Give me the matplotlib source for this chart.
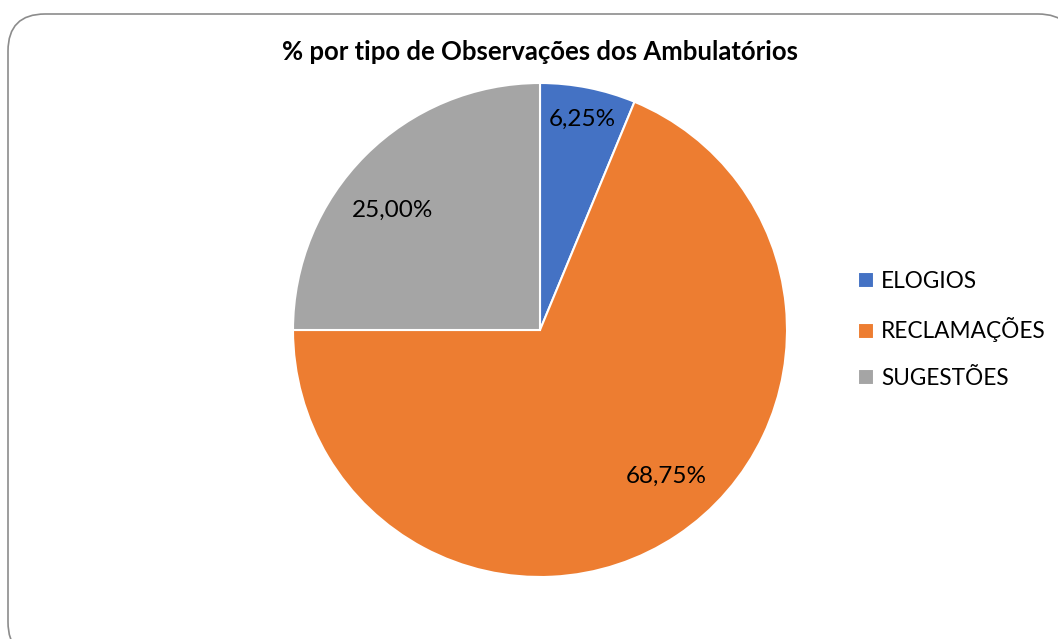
import numpy as np
import matplotlib as mpl
import matplotlib.pyplot as plt
from matplotlib.patches import FancyBboxPatch

mpl.rc('font', family=['Lato', 'DejaVu Sans'])

categorias = ['ELOGIOS', 'RECLAMAÇÕES', 'SUGESTÕES']
percentagens = [6.25, 68.75, 25.00]
cores = ['#4472C4', '#ED7D31', '#A5A5A5']
rotulos = ['6,25%', '68,75%', '25,00%']
# where each label sits: fraction of radius, angular offset from wedge middle
rot_raio = [0.87, 0.78, 0.77]
rot_desvio = [0, 7, 6]

W, H = 1058, 639
fig = plt.figure(figsize=(W / 100, H / 100), dpi=100)

# rounded chart border
borda = FancyBboxPatch((8 / W, -20 / H), (1075 - 8) / W, (639 - 14 + 20) / H,
                       boxstyle='round,pad=0,rounding_size=0.035',
                       transform=fig.transFigure, facecolor='white',
                       edgecolor='#8c8c8c', linewidth=1.2, mutation_aspect=W / H,
                       zorder=-10)
fig.patches.append(borda)

cx, cy, r = 540, 639 - 330, 247
ax = fig.add_axes([(cx - r) / W, (cy - r) / H, 2 * r / W, 2 * r / H])
ax.patch.set_visible(False)
wedges, _ = ax.pie(percentagens, colors=cores, startangle=90, counterclock=False,
                   wedgeprops=dict(edgecolor='white', linewidth=1.5))
ax.set_xlim(-1, 1)
ax.set_ylim(-1, 1)
ax.set_aspect('equal')

for w, txt, rr, dd in zip(wedges, rotulos, rot_raio, rot_desvio):
    meio = np.deg2rad((w.theta1 + w.theta2) / 2 + dd)
    ax.text(rr * np.cos(meio), rr * np.sin(meio), txt, ha='center', va='center',
            fontsize=17.5, color='#000000')

fig.text(540 / W, 1 - 52 / H, '% por tipo de Observações dos Ambulatórios',
         ha='center', va='center', fontsize=18.5, fontweight='bold')

fig.legend(wedges, categorias, loc='center left', bbox_to_anchor=(838 / W, 1 - 330 / H),
           frameon=False, fontsize=16.3, handlelength=0.7, handleheight=0.7,
           handletextpad=0.3, labelspacing=1.13)

fig.savefig('out.png', dpi=100)
